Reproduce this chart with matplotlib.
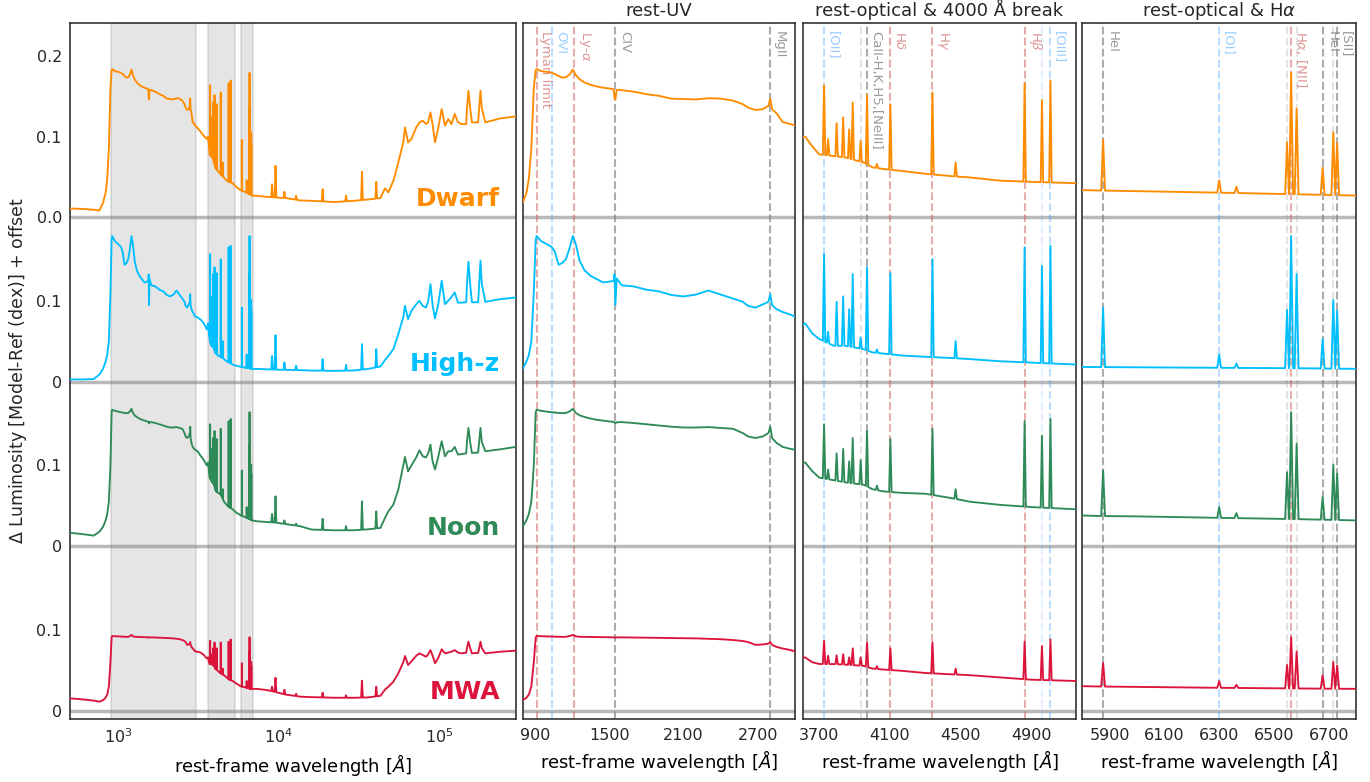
import numpy as np
import matplotlib.pyplot as plt
import matplotlib.transforms as mtransforms

# --- spectra: continuum nodes (rest-frame Angstrom) ---
names = ["Dwarf", "High-z", "Noon", "MWA"]
colors = ["darkorange", "deepskyblue", "seagreen", "crimson"]

cont_wave = [
    500, 600, 700, 760, 800, 830, 850, 870, 890, 905,
    912, 950, 1000, 1034, 1060, 1090, 1120, 1150, 1180, 1205,
    1230, 1260, 1300, 1350, 1400, 1450, 1500, 1535, 1542, 1549,
    1560, 1600, 1700, 1800, 1900, 2000, 2100, 2200, 2300, 2400,
    2500, 2580, 2620, 2680, 2740, 2785, 2800, 2815, 2850, 2900,
    2950, 3000, 3100, 3250, 3400, 3550, 3620, 3660, 3700, 3780,
    3850, 3950, 4000, 4060, 4160, 4300, 4450, 4550, 4720, 4900,
    5150, 5400, 5700, 5850, 6000, 6250, 6600, 6800, 7300, 8400,
    9800, 11000, 13600, 16000, 22000, 29000, 36000, 43000, 45900, 48200,
    51800, 55600, 59700, 61200, 64000, 67100, 71900, 75300, 79000, 82800,
    85500, 88200, 91000, 94200, 98500, 103700, 108700, 113900, 119400, 125000,
    131000, 137400, 147400, 149000, 152300, 156000, 160000, 175000, 177500, 181000,
    184500, 194000, 240000, 300000,
]

dwarf_cont = [
    0.0110, 0.0105, 0.0095, 0.0085, 0.0180, 0.0300, 0.0480, 0.0850, 0.1600, 0.1820,
    0.1835, 0.1810, 0.1800, 0.1790, 0.1775, 0.1750, 0.1730, 0.1735, 0.1770, 0.1830,
    0.1760, 0.1710, 0.1670, 0.1640, 0.1620, 0.1605, 0.1595, 0.1585, 0.1480, 0.1460,
    0.1580, 0.1575, 0.1555, 0.1525, 0.1505, 0.1470, 0.1465, 0.1460, 0.1475, 0.1470,
    0.1445, 0.1400, 0.1360, 0.1330, 0.1340, 0.1380, 0.1470, 0.1340, 0.1290, 0.1180,
    0.1160, 0.1140, 0.1110, 0.1060, 0.1010, 0.0970, 0.1000, 0.0880, 0.0780, 0.0760,
    0.0740, 0.0680, 0.0620, 0.0600, 0.0577, 0.0540, 0.0510, 0.0495, 0.0455, 0.0440,
    0.0424, 0.0380, 0.0345, 0.0334, 0.0325, 0.0310, 0.0285, 0.0270, 0.0267, 0.0255,
    0.0245, 0.0240, 0.0210, 0.0205, 0.0190, 0.0205, 0.0222, 0.0240, 0.0359, 0.0310,
    0.0453, 0.0680, 0.0928, 0.1114, 0.0928, 0.0970, 0.1114, 0.1176, 0.1196, 0.1155,
    0.1180, 0.1300, 0.1150, 0.0930, 0.1100, 0.1340, 0.1134, 0.1217, 0.1155, 0.1280,
    0.1180, 0.1155, 0.1155, 0.1350, 0.1567, 0.1350, 0.1176, 0.1176, 0.1350, 0.1567,
    0.1350, 0.1176, 0.1225, 0.1250,
]

highz_cont = [
    0.0030, 0.0030, 0.0035, 0.0090, 0.0160, 0.0250, 0.0330, 0.0500, 0.1100, 0.1750,
    0.1805, 0.1740, 0.1700, 0.1670, 0.1610, 0.1450, 0.1470, 0.1520, 0.1660, 0.1805,
    0.1700, 0.1500, 0.1380, 0.1310, 0.1270, 0.1230, 0.1240, 0.1250, 0.1330, 0.0950,
    0.1280, 0.1195, 0.1180, 0.1140, 0.1120, 0.1075, 0.1057, 0.1080, 0.1130, 0.1080,
    0.1030, 0.0990, 0.0940, 0.0918, 0.0960, 0.0990, 0.1085, 0.0950, 0.0900, 0.0864,
    0.0840, 0.0808, 0.0800, 0.0770, 0.0725, 0.0650, 0.0725, 0.0600, 0.0530, 0.0448,
    0.0445, 0.0405, 0.0365, 0.0350, 0.0327, 0.0310, 0.0295, 0.0282, 0.0255, 0.0238,
    0.0215, 0.0200, 0.0188, 0.0183, 0.0180, 0.0175, 0.0168, 0.0161, 0.0160, 0.0155,
    0.0150, 0.0148, 0.0145, 0.0140, 0.0136, 0.0140, 0.0160, 0.0190, 0.0270, 0.0320,
    0.0405, 0.0590, 0.0800, 0.0940, 0.0776, 0.0880, 0.0960, 0.1003, 0.0940, 0.0920,
    0.1000, 0.1210, 0.0950, 0.0785, 0.0950, 0.1250, 0.0962, 0.1003, 0.1050, 0.1106,
    0.0980, 0.0980, 0.0985, 0.1210, 0.1485, 0.1210, 0.0985, 0.0985, 0.1210, 0.1500,
    0.1210, 0.0990, 0.1023, 0.1044,
]

noon_cont = [
    0.0166, 0.0150, 0.0132, 0.0180, 0.0240, 0.0320, 0.0400, 0.0550, 0.1000, 0.1650,
    0.1690, 0.1676, 0.1665, 0.1660, 0.1655, 0.1650, 0.1648, 0.1650, 0.1670, 0.1700,
    0.1650, 0.1620, 0.1600, 0.1580, 0.1565, 0.1555, 0.1545, 0.1540, 0.1535, 0.1520,
    0.1535, 0.1537, 0.1525, 0.1510, 0.1495, 0.1480, 0.1470, 0.1470, 0.1475, 0.1465,
    0.1454, 0.1400, 0.1360, 0.1340, 0.1360, 0.1400, 0.1480, 0.1340, 0.1280, 0.1230,
    0.1210, 0.1194, 0.1180, 0.1120, 0.1070, 0.1000, 0.1038, 0.0930, 0.0850, 0.0818,
    0.0790, 0.0762, 0.0707, 0.0680, 0.0662, 0.0650, 0.0596, 0.0552, 0.0513, 0.0485,
    0.0458, 0.0420, 0.0390, 0.0375, 0.0370, 0.0355, 0.0335, 0.0320, 0.0310, 0.0300,
    0.0290, 0.0275, 0.0248, 0.0207, 0.0198, 0.0198, 0.0210, 0.0227, 0.0350, 0.0433,
    0.0516, 0.0702, 0.1000, 0.1106, 0.0928, 0.1000, 0.1100, 0.1188, 0.1114, 0.1100,
    0.1150, 0.1259, 0.1050, 0.0950, 0.1100, 0.1300, 0.1114, 0.1176, 0.1176, 0.1230,
    0.1135, 0.1140, 0.1150, 0.1290, 0.1465, 0.1290, 0.1155, 0.1160, 0.1290, 0.1465,
    0.1290, 0.1176, 0.1200, 0.1230,
]

mwa_cont = [
    0.0153, 0.0140, 0.0125, 0.0112, 0.0130, 0.0160, 0.0200, 0.0300, 0.0600, 0.0900,
    0.0925, 0.0922, 0.0920, 0.0918, 0.0916, 0.0915, 0.0914, 0.0915, 0.0925, 0.0938,
    0.0920, 0.0915, 0.0914, 0.0913, 0.0912, 0.0911, 0.0910, 0.0908, 0.0905, 0.0904,
    0.0908, 0.0908, 0.0906, 0.0904, 0.0902, 0.0900, 0.0898, 0.0895, 0.0890, 0.0885,
    0.0875, 0.0862, 0.0850, 0.0815, 0.0820, 0.0830, 0.0850, 0.0815, 0.0790, 0.0770,
    0.0755, 0.0735, 0.0730, 0.0720, 0.0690, 0.0648, 0.0660, 0.0600, 0.0578, 0.0578,
    0.0570, 0.0555, 0.0522, 0.0510, 0.0495, 0.0467, 0.0450, 0.0440, 0.0412, 0.0384,
    0.0368, 0.0340, 0.0310, 0.0300, 0.0295, 0.0285, 0.0275, 0.0270, 0.0270, 0.0256,
    0.0225, 0.0200, 0.0174, 0.0168, 0.0161, 0.0160, 0.0165, 0.0185, 0.0260, 0.0297,
    0.0359, 0.0463, 0.0600, 0.0677, 0.0566, 0.0610, 0.0680, 0.0710, 0.0690, 0.0668,
    0.0700, 0.0751, 0.0680, 0.0587, 0.0650, 0.0760, 0.0710, 0.0720, 0.0730, 0.0750,
    0.0720, 0.0710, 0.0717, 0.0775, 0.0854, 0.0775, 0.0710, 0.0715, 0.0775, 0.0854,
    0.0775, 0.0710, 0.0730, 0.0743,
]

# narrow emission lines: centre (Angstrom) and peak value per model
line_wave = [3727, 3750, 3798, 3835, 3869, 3889, 3934, 3970, 4026, 4102,
             4340, 4471, 4861, 4959, 5007, 5876, 6300, 6363, 6548, 6563,
             6583, 6678, 6717, 6731, 9069, 9531, 10830, 12818, 18751, 26252,
             33000, 40510]
dwarf_lines = [0.1637, 0.0970, 0.1167, 0.1238, 0.1090, 0.1420, 0.0948, 0.1514, 0.0660, 0.1400,
               0.1547, 0.0680, 0.1662, 0.1452, 0.1695, 0.0960, 0.0460, 0.0380, 0.0930, 0.1790,
               0.1348, 0.0616, 0.1055, 0.0920, 0.0410, 0.0640, 0.0317, 0.0268, 0.0350, 0.0270,
               0.0565, 0.0440]
highz_lines = [0.1580, 0.0620, 0.0990, 0.1057, 0.0900, 0.1334, 0.0548, 0.1417, 0.0400, 0.1345,
               0.1516, 0.0504, 0.1666, 0.1433, 0.1683, 0.0918, 0.0338, 0.0228, 0.0890, 0.1805,
               0.1334, 0.0530, 0.1012, 0.0880, 0.0320, 0.0578, 0.0240, 0.0200, 0.0280, 0.0210,
               0.0467, 0.0405]
noon_lines = [0.1510, 0.0950, 0.1150, 0.1205, 0.1050, 0.1340, 0.1067, 0.1427, 0.0750, 0.1327,
              0.1454, 0.0707, 0.1548, 0.1370, 0.1576, 0.0940, 0.0485, 0.0410, 0.0917, 0.1660,
              0.1270, 0.0608, 0.1010, 0.0900, 0.0400, 0.0619, 0.0320, 0.0280, 0.0340, 0.0250,
              0.0557, 0.0433]
mwa_lines = [0.0866, 0.0680, 0.0686, 0.0700, 0.0660, 0.0772, 0.0660, 0.0844, 0.0550, 0.0772,
             0.0844, 0.0520, 0.0855, 0.0800, 0.0882, 0.0590, 0.0368, 0.0320, 0.0567, 0.0910,
             0.0733, 0.0440, 0.0605, 0.0560, 0.0297, 0.0408, 0.0260, 0.0210, 0.0223, 0.0190,
             0.0372, 0.0297]

# marked features in the zoom panels
uv_mark_wave = [912, 1034, 1216, 1549, 2798]
uv_mark_text = ["Lyman limit", "OVI", r"Ly-$\alpha$", "CIV", "MgII"]
uv_mark_kind = ["h", "m", "h", "o", "o"]
opt_mark_wave = [3727, 3934, 3968, 4102, 4340, 4861, 4959, 5007]
opt_mark_text = ["[OII]", "", "CaII-H,K,H5,[NeIII]", r"H$\delta$", r"H$\gamma$",
                 r"H$\beta$", "", "[OIII]"]
opt_mark_kind = ["m", "f", "o", "h", "h", "h", "fm", "m"]
ha_mark_wave = [5876, 6300, 6548, 6563, 6583, 6678, 6717, 6731]
ha_mark_text = ["HeI", "[OI]", "", r"H$\alpha$, [NII]", "", "HeI", "", "[SII]"]
ha_mark_kind = ["o", "m", "f", "h", "f", "o", "f", "o"]

kind_style = {
    "h": ("indianred", 0.5),
    "m": ("dodgerblue", 0.3),
    "o": ("gray", 0.65),
    "f": ("gray", 0.22),
    "fm": ("dodgerblue", 0.12),
}

shade_ranges = [(900, 3040), (3630, 5300), (5830, 6870)]


def build_spectrum(cont, peaks):
    """continuum nodes plus a narrow triangle for each emission line"""
    wave = list(cont_wave)
    flux = list(cont)
    for lw, pk in zip(line_wave, peaks):
        hw = 7.0 if lw < 8000 else 0.012 * lw
        wave += [lw - hw, lw, lw + hw]
        flux += [np.interp(lw - hw, cont_wave, cont), pk,
                 np.interp(lw + hw, cont_wave, cont)]
    order = np.argsort(wave, kind="stable")
    return np.array(wave)[order], np.array(flux)[order]


spectra = [build_spectrum(dwarf_cont, dwarf_lines),
           build_spectrum(highz_cont, highz_lines),
           build_spectrum(noon_cont, noon_lines),
           build_spectrum(mwa_cont, mwa_lines)]

step = 0.2035
offsets = [3 * step, 2 * step, step, 0.0]

plt.rcParams["font.family"] = ["DejaVu Sans"]
plt.rcParams["text.color"] = "#262626"
plt.rcParams["axes.edgecolor"] = "#333333"
plt.rcParams["axes.linewidth"] = 1.2
plt.rcParams["xtick.color"] = "#262626"
plt.rcParams["ytick.color"] = "#262626"

fig = plt.figure(figsize=(13.7, 7.82), dpi=100)
bottom, height = 0.0802, 0.8908
ax_full = fig.add_axes([0.0513, bottom, 0.3251, height])
ax_uv = fig.add_axes([0.3815, bottom, 0.1988, height])
ax_opt = fig.add_axes([0.5864, bottom, 0.1988, height])
ax_ha = fig.add_axes([0.7900, bottom, 0.1998, height])
axes = [ax_full, ax_uv, ax_opt, ax_ha]

for ax in axes:
    for off in offsets:
        ax.axhline(off, color="gray", lw=2.5, alpha=0.55, zorder=1)
    for (wave, flux), off, c in zip(spectra, offsets, colors):
        ax.plot(wave, flux + off, color=c, lw=1.35, zorder=3)
    ax.set_ylim(-0.0106, 0.8515)
    ax.tick_params(length=0, pad=6, labelsize=11.5)
    ax.set_xlabel(r"rest-frame wavelength [$\AA$]", fontsize=13)

# full range panel
ax_full.set_xscale("log")
ax_full.set_xlim(500, 3e5)
ax_full.minorticks_off()
for lo, hi in shade_ranges:
    ax_full.axvspan(lo, hi, color="gray", alpha=0.2, lw=1.5, zorder=0)
ytick_pos, ytick_lab = [], []
for i, off in enumerate(offsets):
    vals = [0.0, 0.1, 0.2] if i == 0 else [0.0, 0.1]
    labs = ["0.0", "0.1", "0.2"] if i == 0 else ["0", "0.1"]
    ytick_pos += [off + v for v in vals]
    ytick_lab += labs
ax_full.set_yticks(ytick_pos)
ax_full.set_yticklabels(ytick_lab)
for name, off, c in zip(names, offsets, colors):
    ax_full.text(0.965, off + 0.014, name, transform=ax_full.get_yaxis_transform(),
                 ha="right", va="baseline", fontsize=18, fontweight="bold", color=c)
fig.text(0.0128, bottom + height / 2, r"$\Delta$ Luminosity [Model-Ref (dex)] + offset",
         rotation=90, ha="center", va="center", fontsize=12.5)

# zoom panels
zoom_cfg = [
    (ax_uv, (800, 3000), [900, 1500, 2100, 2700], "rest-UV",
     uv_mark_wave, uv_mark_text, uv_mark_kind),
    (ax_opt, (3610, 5150), [3700, 4100, 4500, 4900], "rest-optical & 4000 Å break",
     opt_mark_wave, opt_mark_text, opt_mark_kind),
    (ax_ha, (5800, 6800), [5900, 6100, 6300, 6500, 6700], r"rest-optical & H$\alpha$",
     ha_mark_wave, ha_mark_text, ha_mark_kind),
]
for ax, xlim, xt, title, mw, mt, mk in zoom_cfg:
    ax.set_xlim(*xlim)
    ax.set_xticks(xt)
    ax.set_yticks([])
    ax.set_title(title, fontsize=13, pad=5)
    shift = mtransforms.ScaledTranslation(2 / 72, 0, fig.dpi_scale_trans)
    for w, t, k in zip(mw, mt, mk):
        col, a = kind_style[k]
        ax.axvline(w, color=col, alpha=a, ls="--", lw=1.5, zorder=2)
        if t:
            ax.text(w, 0.988, t, transform=ax.get_xaxis_transform() + shift,
                    rotation=-90, ha="left", va="top", fontsize=9.5,
                    color=col, alpha=min(1.0, a + 0.15))

plt.savefig("out.png", dpi=100)
plt.close()
